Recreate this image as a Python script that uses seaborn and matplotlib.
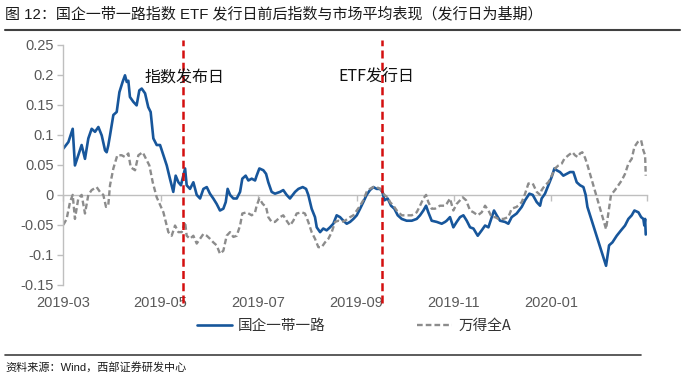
import pandas as pd
import matplotlib
matplotlib.use("Agg")
import matplotlib.pyplot as plt
from matplotlib.lines import Line2D
from matplotlib.ticker import FuncFormatter
import seaborn as sns

# base date, every series position is "days after START"
START = pd.Timestamp("2019-03-01")

# 国企一带一路
blue_days = [0.0, 3.2, 5.9, 7.3, 9.4, 11.5, 13.6, 15.7, 17.8, 19.9, 22.0, 24.1, 26.2, 27.2, 28.2, 29.3,
             31.4, 33.5, 35.2, 37.2, 38.7, 39.8, 40.8, 41.8, 43.9, 46.0, 47.7, 49.2, 51.3, 53.3, 54.8,
             56.5, 58.6, 60.7,
             62.8, 64.9, 66.9, 69.0, 70.5, 72.2, 73.8, 75.3, 76.4, 77.4, 79.5, 81.6, 83.7, 85.8, 87.9,
             90.0, 92.0, 94.1, 96.2, 98.3, 100.4, 101.9, 103.1, 104.6, 106.7, 108.8, 110.9, 112.3,
             114.4, 116.1, 118.2, 120.3,
             121.3, 123.0, 125.5, 127.2, 128.6, 130.7, 132.8, 136.0, 138.0, 140.1, 142.2, 143.9, 145.4,
             147.5, 150.2, 152.3, 153.7, 155.8, 157.9, 159.0, 161.1, 163.1, 165.2, 167.3, 169.4, 171.5,
             173.6, 175.7, 177.8, 179.9,
             182.0, 184.1, 186.2, 188.2, 190.3, 192.4, 194.5, 196.6, 198.7, 200.2, 201.4, 203.5, 205.6,
             207.7, 209.8, 212.3, 215.4, 218.6, 221.7, 223.8, 225.9, 227.6, 229.0, 231.1, 234.3, 237.4,
             239.5,
             240.5, 242.6, 244.7, 246.8, 248.9, 251.0, 253.1, 255.2, 257.3, 260.0, 262.5, 264.6, 266.7,
             268.8, 270.2, 271.9, 274.0, 277.1, 279.2, 281.3, 284.4, 287.6, 289.7, 292.4, 294.5, 297.0,
             299.1,
             300.1, 302.2, 304.3, 306.4, 308.1, 309.5, 311.6, 313.7, 315.8, 317.9, 320.0, 322.1, 324.2,
             326.3, 327.7, 328.8, 340.5, 342.4, 344.5, 347.2, 349.9, 352.4, 354.5, 356.6, 358.3, 360.8,
             362.5, 363.9, 364.5, 365.0, 365.4]
blue_vals = [0.077, 0.088, 0.110, 0.049, 0.066, 0.083, 0.060, 0.094, 0.110, 0.105, 0.113, 0.099, 0.074,
             0.071, 0.082, 0.099, 0.133, 0.138, 0.171, 0.188, 0.199, 0.188, 0.190, 0.163, 0.155, 0.149,
             0.174, 0.177, 0.169, 0.146, 0.138, 0.094, 0.083, 0.083,
             0.066, 0.049, 0.027, 0.005, 0.032, 0.021, 0.016, 0.032, 0.044, 0.016, 0.010, 0.021, 0.000,
             -0.006, 0.010, 0.013, 0.002, -0.006, -0.015, -0.026, -0.023, -0.012, 0.010, 0.000, -0.006,
             -0.006, 0.005, 0.027, 0.032, 0.024, 0.027, 0.024,
             0.032, 0.044, 0.041, 0.035, 0.021, 0.005, 0.002, 0.005, 0.008, 0.000, -0.006, 0.000, 0.005,
             0.010, 0.013, 0.010, 0.000, -0.023, -0.037, -0.054, -0.062, -0.056, -0.059, -0.054, -0.048,
             -0.034, -0.037, -0.043, -0.048, -0.045,
             -0.040, -0.034, -0.023, -0.012, 0.000, 0.008, 0.013, 0.010, 0.010, 0.005, -0.009, -0.006,
             -0.018, -0.023, -0.034, -0.040, -0.043, -0.043, -0.040, -0.034, -0.026, -0.018, -0.029,
             -0.043, -0.045, -0.048, -0.045,
             -0.043, -0.037, -0.054, -0.045, -0.037, -0.034, -0.043, -0.054, -0.056, -0.068, -0.059,
             -0.051, -0.054, -0.037, -0.026, -0.034, -0.043, -0.045, -0.048, -0.037, -0.031, -0.020,
             -0.009, 0.002, 0.000, -0.012, -0.018,
             -0.006, 0.002, 0.016, 0.030, 0.044, 0.041, 0.038, 0.032, 0.035, 0.038, 0.038, 0.021, 0.016,
             0.013, 0.000, -0.020, -0.118, -0.084, -0.079, -0.068, -0.059, -0.051, -0.040, -0.034,
             -0.026, -0.029, -0.037, -0.040, -0.051, -0.040, -0.066]

# 万得全A
gray_days = [0.0, 2.1, 4.2, 5.9, 7.3, 9.4, 11.5, 13.6, 15.7, 17.8, 20.9, 23.0, 25.1, 26.8, 28.2, 29.3,
             31.4, 33.9, 36.6, 38.7, 40.8, 42.3, 45.0, 47.1, 49.8, 51.9, 54.0, 56.1, 58.6,
             62.8, 65.9, 68.0, 70.1, 72.2, 74.3, 76.4, 77.4, 79.5, 81.6, 83.7, 85.8, 87.9, 90.0, 92.0,
             94.1, 96.2, 98.3, 100.4, 102.5, 104.6, 106.7, 108.8, 110.9, 112.3, 115.0, 118.2, 120.3,
             121.3, 123.0, 125.1, 127.2, 128.6, 130.7, 132.8, 136.0, 138.0, 140.1, 142.2, 144.3, 146.4,
             149.6, 151.6, 153.7, 155.8, 157.9, 160.0, 162.1, 164.2, 166.3, 168.4, 170.5, 172.6, 174.6,
             176.7, 179.9,
             182.0, 184.1, 186.2, 188.2, 190.3, 192.4, 194.5, 196.6, 198.7, 200.2, 201.4, 203.5, 205.0,
             207.1, 209.2, 212.3, 215.4, 218.6, 221.7, 223.8, 225.9, 227.6, 229.0, 231.1, 233.2, 236.3,
             239.5,
             240.5, 242.6, 244.7, 246.8, 248.9, 250.6, 252.7, 255.2, 257.3, 260.0, 262.5, 264.6, 266.7,
             268.8, 270.9, 272.9, 276.1, 279.2, 281.3, 284.4, 287.6, 289.7, 291.8, 294.5, 297.0, 299.1,
             300.1, 302.2, 304.3, 306.4, 308.5, 310.6, 312.7, 314.3, 316.9, 319.4, 321.0, 322.7, 324.2,
             325.6, 327.3, 328.8, 340.5, 342.0, 343.6, 346.1, 348.2, 350.3, 352.4, 354.5, 356.6, 358.3,
             360.4, 362.5, 363.9, 365.0, 365.4]
gray_vals = [-0.050, -0.040, -0.012, 0.000, -0.040, -0.006, 0.000, -0.031, 0.000, 0.008, 0.013, 0.005,
             0.000, -0.020, -0.018, 0.016, 0.044, 0.066, 0.066, 0.063, 0.069, 0.046, 0.041, 0.066, 0.071,
             0.060, 0.049, 0.021, -0.004,
             -0.029, -0.062, -0.068, -0.051, -0.062, -0.062, -0.045, -0.068, -0.073, -0.068, -0.081,
             -0.073, -0.065, -0.068, -0.073, -0.079, -0.084, -0.098, -0.093, -0.068, -0.062, -0.070,
             -0.068, -0.051, -0.031, -0.029, -0.034, -0.029,
             -0.018, -0.006, -0.015, -0.020, -0.037, -0.045, -0.045, -0.037, -0.034, -0.043, -0.051,
             -0.043, -0.031, -0.029, -0.031, -0.045, -0.062, -0.073, -0.087, -0.087, -0.079, -0.073,
             -0.062, -0.045, -0.043, -0.045, -0.043, -0.037,
             -0.034, -0.026, -0.018, -0.009, 0.005, 0.010, 0.013, 0.013, 0.010, 0.005, 0.000, -0.004,
             -0.012, -0.018, -0.026, -0.034, -0.034, -0.034, -0.029, -0.018, -0.006, 0.000, -0.012,
             -0.023, -0.023, -0.018, -0.018,
             -0.015, -0.006, -0.026, -0.015, -0.009, -0.004, -0.009, -0.026, -0.029, -0.034, -0.029,
             -0.018, -0.026, -0.037, -0.037, -0.040, -0.040, -0.037, -0.023, -0.020, -0.012, 0.002,
             0.019, 0.019, 0.005, 0.000,
             0.008, 0.016, 0.021, 0.032, 0.044, 0.049, 0.052, 0.060, 0.066, 0.071, 0.066, 0.063, 0.069,
             0.071, 0.062, 0.050, -0.057, -0.029, 0.000, 0.008, 0.016, 0.024, 0.035, 0.052, 0.060, 0.080,
             0.088, 0.091, 0.074, 0.066, 0.032]

series_names = ["国企一带一路", "万得全A"]
event_dates = ["2019-05-15", "2019-09-17"]
event_labels = ["指数发布日", "ETF发行日"]
x_tick_dates = ["2019-03-01", "2019-05-01", "2019-07-01", "2019-09-01", "2019-11-01", "2020-01-01",
                "2020-03-01"]
x_tick_labels = ["2019-03", "2019-05", "2019-07", "2019-09", "2019-11", "2020-01", ""]
y_ticks = [-0.15, -0.1, -0.05, 0, 0.05, 0.1, 0.15, 0.2, 0.25]

title = "图 12：国企一带一路指数 ETF 发行日前后指数与市场平均表现（发行日为基期）"
source = "资料来源：Wind，西部证券研发中心"

BLUE = "#17569b"
GRAY = "#8c8c8c"
RED = "#d40f0f"
AXIS = "#bfbfbf"
LABEL = "#595959"

sns.set_style("white")
plt.rcParams["font.family"] = ["Liberation Sans", "Noto Sans CJK SC"]
CJK = ["Noto Sans CJK SC", "DejaVu Sans"]


def to_dates(days):
    return START + pd.to_timedelta(days, unit="D")


blue = pd.DataFrame({"date": to_dates(blue_days), "value": blue_vals})
gray = pd.DataFrame({"date": to_dates(gray_days), "value": gray_vals})

fig = plt.figure(figsize=(6.82, 3.74), dpi=100)
ax = fig.add_axes([63.3 / 682, 1 - 285 / 374, (646.7 - 63.3) / 682, (285 - 44.7) / 374])

# --- zero line with month ticks (drawn under the series) ---
zero = ax.secondary_xaxis((0 + 0.15) / 0.4)
zero.set_xticks(pd.to_datetime(x_tick_dates))
zero.tick_params(axis="x", length=4, width=1, color=AXIS, labelbottom=False, direction="out")
zero.spines["bottom"].set_color(AXIS)
zero.spines["bottom"].set_linewidth(1)

sns.lineplot(data=blue, x="date", y="value", ax=ax, color=BLUE, lw=1.9, label=series_names[0],
             legend=False)
sns.lineplot(data=gray, x="date", y="value", ax=ax, color=GRAY, lw=1.7, label=series_names[1],
             linestyle=(0, (2.4, 1.3)), legend=False)

# --- event markers ---
offsets = [1, -4]
for d, lab, off in zip(event_dates, event_labels, offsets):
    ax.axvline(pd.Timestamp(d), ymin=-0.075, ymax=1.02, clip_on=False, color=RED, lw=1.8,
               linestyle=(0, (3.2, 1.7)), zorder=5)
    ax.annotate(lab, xy=(pd.Timestamp(d), 0.195), xytext=(off, 0), textcoords="offset points",
                ha="center", va="center", fontsize=11.5, family=CJK, color="#111111", zorder=6)

ax.set_xlim(pd.Timestamp(x_tick_dates[0]), pd.Timestamp(x_tick_dates[-1]))
ax.set_ylim(-0.15, 0.25)
ax.set_xticks(pd.to_datetime(x_tick_dates))
ax.set_xticklabels(x_tick_labels)
ax.set_yticks(y_ticks)
ax.yaxis.set_major_formatter(FuncFormatter(lambda v, p: "0" if abs(v) < 1e-9 else f"{v:g}"))
ax.set_xlabel("")
ax.set_ylabel("")

for side in ["top", "right", "bottom"]:
    ax.spines[side].set_visible(False)
ax.spines["left"].set_color(AXIS)
ax.spines["left"].set_linewidth(1)
ax.tick_params(axis="y", length=4, width=1, color=AXIS, labelcolor=LABEL, labelsize=10.5, pad=3,
               direction="out", left=True)
ax.tick_params(axis="x", length=0, labelcolor=LABEL, labelsize=10.5, pad=8)
ax.grid(False)

# --- legend under the plot ---
handles = [Line2D([], [], color=BLUE, lw=1.9),
           Line2D([], [], color=GRAY, lw=1.7, linestyle=(0, (2.4, 1.3)))]
fig.legend(handles, series_names, loc="center", bbox_to_anchor=(0.519, 1 - 326 / 374), ncol=2,
           frameon=False, handlelength=2.4, handletextpad=0.4, columnspacing=6.3,
           prop={"family": CJK, "size": 10.5}, labelcolor="#333333")

# --- title, rules and source ---
fig.text(0.008, 1 - 14 / 374, title, fontsize=10.8, ha="left", va="center", color="#1a1a1a")
fig.add_artist(Line2D([0.008, 0.997], [1 - 30 / 374] * 2, color="#404040", lw=1.5))
fig.add_artist(Line2D([0.008, 0.94], [1 - 355 / 374] * 2, color="#404040", lw=1.2))
fig.text(0.008, 1 - 367 / 374, source, fontsize=8, ha="left", va="center", color="#1a1a1a",
         family=["Liberation Sans", "Noto Sans CJK SC"])

fig.savefig("out.png", dpi=100)
